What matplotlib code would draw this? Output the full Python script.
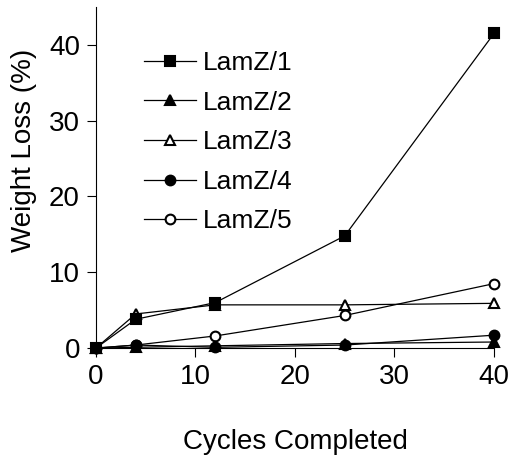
"""Weight loss of LamZ samples over completed cycles."""
import matplotlib
matplotlib.use('Agg')
import matplotlib.pyplot as plt

cycles = [0, 4, 12, 25, 40]
lamz1 = [0, 3.8, 6.0, 14.8, 41.5]
lamz2 = [0, 0.1, 0.3, 0.6, 0.8]
lamz3 = [0, 4.5, 5.7, 5.7, 5.9]
lamz4 = [0, 0.4, 0.1, 0.4, 1.7]
lamz5 = [0, 0.4, 1.6, 4.3, 8.5]

series = [
    ('LamZ/1', lamz1, 's', 'black'),
    ('LamZ/2', lamz2, '^', 'black'),
    ('LamZ/3', lamz3, '^', 'white'),
    ('LamZ/4', lamz4, 'o', 'black'),
    ('LamZ/5', lamz5, 'o', 'white'),
]

plt.rcParams['font.family'] = ['Liberation Sans', 'DejaVu Sans']
plt.rcParams['font.size'] = 20

fig = plt.figure(figsize=(5.13, 4.58), dpi=100)
ax = fig.add_axes([0.187, 0.240, 0.776, 0.745])

# draw later series first so the squares sit on top
handles = {}
for i, (name, vals, mk, face) in reversed(list(enumerate(series))):
    h, = ax.plot(cycles, vals, marker=mk, markersize=7, markerfacecolor=face,
                 markeredgecolor='black', markeredgewidth=1.5,
                 color='black', linewidth=0.9, clip_on=False, zorder=3 + (5 - i))
    handles[name] = h

ax.set_xlim(0, 40)
ax.set_ylim(0, 45)
ax.set_xticks([0, 10, 20, 30, 40])
ax.set_yticks([0, 10, 20, 30, 40])
ax.spines['top'].set_visible(False)
ax.spines['right'].set_visible(False)
ax.tick_params(direction='out', length=6.5, width=0.8, pad=5, labelsize=20)

ax.set_xlabel('Cycles Completed', fontsize=20, labelpad=28)
ax.set_ylabel('Weight Loss (%)', fontsize=20)
ax.yaxis.set_label_coords(-0.148, 0.58)

names = [s[0] for s in series]
ax.legend([handles[n] for n in names], names, frameon=False,
          loc='upper left', bbox_to_anchor=(0.062, 0.94),
          handlelength=1.95, handletextpad=0.25, labelspacing=0.59, fontsize=19)

plt.savefig('out.png', dpi=100)
